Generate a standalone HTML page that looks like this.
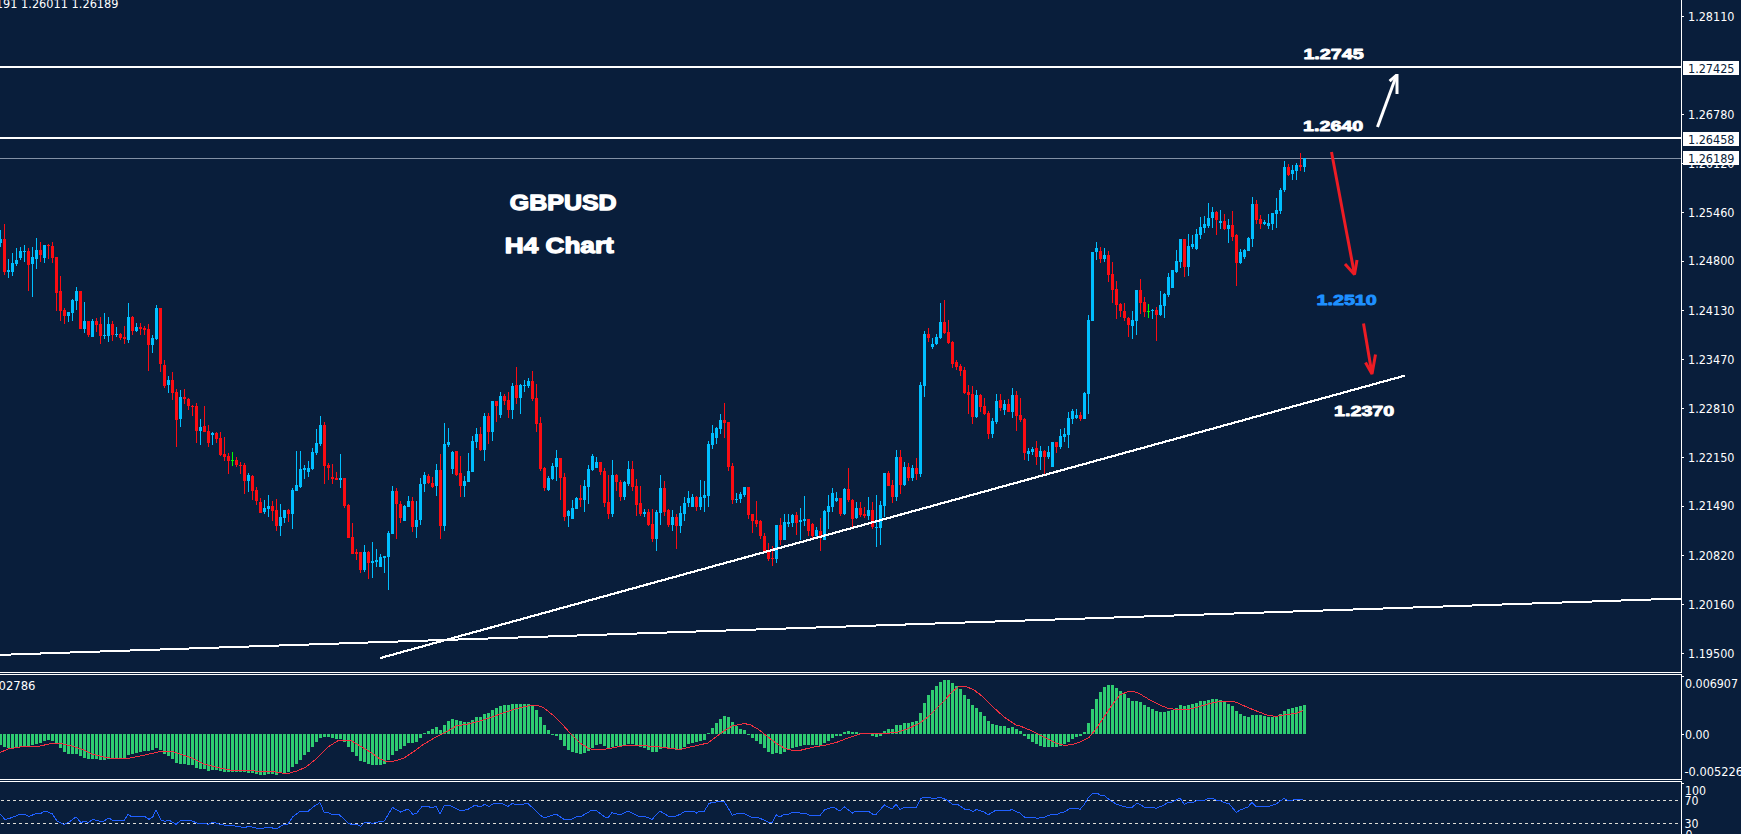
<!DOCTYPE html>
<html lang="en"><head><meta charset="utf-8"><title>GBPUSD H4 Chart</title>
<style>html,body{margin:0;padding:0;background:#091e3b;overflow:hidden}svg{display:block}</style>
</head><body>
<svg width="1741" height="834" viewBox="0 0 1741 834">
<rect width="1741" height="834" fill="#091e3b"/>
<g shape-rendering="crispEdges">
<rect x="0" y="66" width="1681" height="2" fill="#fff"/>
<rect x="0" y="137" width="1681" height="2" fill="#fff"/>
<rect x="0" y="158" width="1681" height="1" fill="#8391a5"/>
</g>
<g shape-rendering="crispEdges">
<path fill="#00bfff" d="M0 230h1v17h-1zM-1 239h3v4h-3zM8 259h1v19h-1zM7 270h3v2h-3zM12 253h1v23h-1zM11 263h3v9h-3zM16 248h1v18h-1zM15 260h3v4h-3zM20 247h1v13h-1zM19 251h3v7h-3zM24 245h1v17h-1zM23 251h3v1h-3zM32 247h1v50h-1zM31 257h3v7h-3zM36 238h1v31h-1zM35 250h3v9h-3zM44 245h1v18h-1zM43 245h3v13h-3zM68 312h1v10h-1zM67 312h3v4h-3zM72 299h1v22h-1zM71 300h3v13h-3zM76 287h1v23h-1zM75 291h3v10h-3zM84 302h1v31h-1zM83 321h3v8h-3zM92 319h1v18h-1zM91 321h3v16h-3zM104 313h1v26h-1zM103 335h3v1h-3zM108 317h1v25h-1zM107 324h3v12h-3zM116 327h1v10h-1zM115 334h3v1h-3zM128 303h1v40h-1zM127 317h3v23h-3zM136 323h1v9h-1zM135 327h3v4h-3zM152 335h1v18h-1zM151 338h3v7h-3zM156 305h1v35h-1zM155 308h3v31h-3zM168 376h1v17h-1zM167 380h3v5h-3zM180 390h1v37h-1zM179 397h3v22h-3zM200 419h1v26h-1zM199 427h3v4h-3zM212 432h1v13h-1zM211 433h3v2h-3zM248 473h1v19h-1zM247 475h3v6h-3zM264 500h1v14h-1zM263 508h3v4h-3zM268 495h1v22h-1zM267 506h3v3h-3zM280 504h1v32h-1zM279 517h3v9h-3zM284 510h1v13h-1zM283 510h3v8h-3zM292 488h1v41h-1zM291 490h3v24h-3zM296 451h1v40h-1zM295 485h3v6h-3zM300 451h1v37h-1zM299 469h3v18h-3zM304 465h1v14h-1zM303 468h3v2h-3zM308 461h1v16h-1zM307 468h3v4h-3zM312 448h1v22h-1zM311 452h3v17h-3zM316 429h1v26h-1zM315 443h3v10h-3zM320 416h1v30h-1zM319 425h3v19h-3zM340 454h1v34h-1zM339 478h3v2h-3zM364 545h1v27h-1zM363 552h3v18h-3zM372 542h1v36h-1zM371 561h3v2h-3zM376 549h1v18h-1zM375 560h3v2h-3zM380 554h1v13h-1zM379 557h3v10h-3zM384 556h1v17h-1zM383 556h3v2h-3zM388 531h1v59h-1zM387 533h3v24h-3zM392 486h1v48h-1zM391 491h3v43h-3zM404 505h1v16h-1zM403 506h3v15h-3zM408 496h1v11h-1zM407 501h3v6h-3zM416 501h1v37h-1zM415 520h3v7h-3zM420 478h1v47h-1zM419 484h3v36h-3zM424 472h1v20h-1zM423 475h3v9h-3zM436 464h1v32h-1zM435 470h3v16h-3zM444 423h1v108h-1zM443 444h3v82h-3zM448 428h1v19h-1zM447 442h3v3h-3zM452 451h1v23h-1zM451 452h3v17h-3zM464 476h1v21h-1zM463 481h3v5h-3zM468 453h1v29h-1zM467 471h3v11h-3zM472 436h1v36h-1zM471 441h3v31h-3zM476 428h1v20h-1zM475 434h3v8h-3zM484 413h1v48h-1zM483 416h3v34h-3zM492 401h1v40h-1zM491 401h3v31h-3zM500 392h1v26h-1zM499 396h3v19h-3zM512 383h1v36h-1zM511 386h3v24h-3zM520 384h1v30h-1zM519 385h3v13h-3zM524 380h1v12h-1zM523 385h3v1h-3zM528 378h1v10h-1zM527 381h3v5h-3zM548 476h1v15h-1zM547 478h3v12h-3zM552 463h1v17h-1zM551 466h3v13h-3zM556 450h1v31h-1zM555 458h3v9h-3zM568 510h1v17h-1zM567 511h3v5h-3zM572 500h1v19h-1zM571 508h3v11h-3zM576 497h1v12h-1zM575 498h3v11h-3zM584 480h1v32h-1zM583 486h3v14h-3zM588 465h1v39h-1zM587 469h3v18h-3zM592 454h1v17h-1zM591 456h3v14h-3zM596 457h1v11h-1zM595 462h3v6h-3zM612 460h1v57h-1zM611 475h3v39h-3zM624 481h1v19h-1zM623 482h3v15h-3zM628 461h1v25h-1zM627 469h3v15h-3zM644 509h1v8h-1zM643 512h3v2h-3zM656 510h1v41h-1zM655 512h3v27h-3zM660 475h1v50h-1zM659 488h3v25h-3zM672 510h1v21h-1zM671 517h3v8h-3zM680 506h1v27h-1zM679 513h3v13h-3zM684 497h1v24h-1zM683 503h3v11h-3zM688 491h1v16h-1zM687 498h3v5h-3zM692 494h1v13h-1zM691 497h3v10h-3zM700 480h1v30h-1zM699 497h3v10h-3zM704 481h1v31h-1zM703 495h3v3h-3zM708 441h1v66h-1zM707 444h3v52h-3zM712 425h1v24h-1zM711 433h3v12h-3zM716 427h1v17h-1zM715 428h3v10h-3zM720 414h1v20h-1zM719 420h3v9h-3zM736 493h1v10h-1zM735 499h3v1h-3zM740 492h1v11h-1zM739 494h3v5h-3zM744 487h1v10h-1zM743 487h3v8h-3zM776 525h1v38h-1zM775 525h3v34h-3zM784 514h1v26h-1zM783 522h3v18h-3zM788 514h1v13h-1zM787 522h3v2h-3zM792 514h1v13h-1zM791 515h3v8h-3zM800 508h1v32h-1zM799 520h3v2h-3zM804 496h1v30h-1zM803 519h3v2h-3zM816 527h1v10h-1zM815 530h3v6h-3zM824 510h1v30h-1zM823 511h3v29h-3zM828 495h1v34h-1zM827 506h3v6h-3zM832 488h1v24h-1zM831 493h3v14h-3zM836 492h1v10h-1zM835 498h3v3h-3zM844 488h1v27h-1zM843 489h3v25h-3zM856 502h1v17h-1zM855 508h3v10h-3zM868 497h1v23h-1zM867 510h3v6h-3zM876 495h1v52h-1zM875 527h3v1h-3zM880 501h1v44h-1zM879 505h3v23h-3zM884 473h1v44h-1zM883 473h3v33h-3zM896 450h1v51h-1zM895 457h3v40h-3zM904 462h1v24h-1zM903 467h3v18h-3zM912 465h1v16h-1zM911 468h3v10h-3zM920 382h1v95h-1zM919 385h3v89h-3zM924 331h1v66h-1zM923 334h3v52h-3zM932 338h1v11h-1zM931 344h3v3h-3zM936 334h1v11h-1zM935 337h3v7h-3zM940 303h1v36h-1zM939 322h3v16h-3zM976 390h1v28h-1zM975 395h3v22h-3zM992 418h1v20h-1zM991 421h3v13h-3zM996 394h1v30h-1zM995 401h3v21h-3zM1004 400h1v15h-1zM1003 404h3v6h-3zM1012 388h1v30h-1zM1011 395h3v17h-3zM1028 448h1v13h-1zM1027 451h3v3h-3zM1032 447h1v8h-1zM1031 449h3v3h-3zM1040 446h1v24h-1zM1039 451h3v6h-3zM1048 446h1v13h-1zM1047 452h3v5h-3zM1052 442h1v25h-1zM1051 442h3v25h-3zM1060 429h1v20h-1zM1059 436h3v11h-3zM1064 428h1v14h-1zM1063 434h3v3h-3zM1068 412h1v36h-1zM1067 418h3v17h-3zM1072 409h1v15h-1zM1071 411h3v8h-3zM1076 409h1v10h-1zM1075 415h3v3h-3zM1084 392h1v27h-1zM1083 393h3v26h-3zM1088 315h1v99h-1zM1087 320h3v74h-3zM1092 252h1v69h-1zM1091 252h3v69h-3zM1096 242h1v18h-1zM1095 248h3v4h-3zM1104 248h1v14h-1zM1103 255h3v4h-3zM1132 311h1v28h-1zM1131 320h3v6h-3zM1136 290h1v45h-1zM1135 290h3v31h-3zM1152 309h1v10h-1zM1151 310h3v1h-3zM1160 291h1v25h-1zM1159 305h3v10h-3zM1164 293h1v25h-1zM1163 294h3v12h-3zM1168 273h1v24h-1zM1167 277h3v18h-3zM1172 270h1v18h-1zM1171 270h3v18h-3zM1176 250h1v23h-1zM1175 261h3v11h-3zM1180 239h1v29h-1zM1179 239h3v23h-3zM1188 234h1v42h-1zM1187 246h3v21h-3zM1192 235h1v14h-1zM1191 244h3v3h-3zM1196 229h1v21h-1zM1195 234h3v15h-3zM1200 217h1v22h-1zM1199 227h3v8h-3zM1204 216h1v17h-1zM1203 224h3v4h-3zM1208 203h1v25h-1zM1207 218h3v8h-3zM1212 207h1v21h-1zM1211 212h3v6h-3zM1220 210h1v19h-1zM1219 221h3v2h-3zM1228 219h1v24h-1zM1227 225h3v4h-3zM1240 249h1v15h-1zM1239 252h3v11h-3zM1244 249h1v10h-1zM1243 250h3v7h-3zM1248 237h1v14h-1zM1247 238h3v13h-3zM1252 197h1v50h-1zM1251 204h3v35h-3zM1264 220h1v5h-1zM1263 222h3v2h-3zM1268 214h1v15h-1zM1267 223h3v3h-3zM1272 213h1v17h-1zM1271 213h3v11h-3zM1276 198h1v30h-1zM1275 210h3v4h-3zM1280 188h1v26h-1zM1279 190h3v21h-3zM1284 161h1v31h-1zM1283 167h3v23h-3zM1292 165h1v15h-1zM1291 170h3v4h-3zM1296 163h1v17h-1zM1295 165h3v6h-3zM1304 158h1v14h-1zM1303 158h3v9h-3z"/>
<path fill="#fc0c12" d="M4 224h1v51h-1zM3 239h3v33h-3zM28 248h1v43h-1zM27 251h3v14h-3zM40 242h1v20h-1zM39 250h3v5h-3zM48 244h1v15h-1zM47 245h3v1h-3zM52 242h1v21h-1zM51 246h3v12h-3zM56 257h1v54h-1zM55 257h3v36h-3zM60 276h1v45h-1zM59 291h3v20h-3zM64 308h1v16h-1zM63 310h3v6h-3zM80 291h1v38h-1zM79 291h3v38h-3zM88 321h1v16h-1zM87 321h3v14h-3zM96 318h1v14h-1zM95 321h3v4h-3zM100 317h1v27h-1zM99 324h3v12h-3zM112 321h1v20h-1zM111 324h3v11h-3zM120 333h1v7h-1zM119 334h3v4h-3zM124 326h1v18h-1zM123 337h3v2h-3zM132 316h1v19h-1zM131 317h3v14h-3zM140 323h1v12h-1zM139 327h3v2h-3zM144 326h1v9h-1zM143 328h3v2h-3zM148 324h1v47h-1zM147 329h3v16h-3zM160 308h1v64h-1zM159 308h3v56h-3zM164 360h1v28h-1zM163 365h3v21h-3zM172 372h1v28h-1zM171 380h3v13h-3zM176 389h1v58h-1zM175 392h3v28h-3zM184 389h1v15h-1zM183 397h3v2h-3zM188 398h1v12h-1zM187 399h3v7h-3zM192 405h1v11h-1zM191 406h3v1h-3zM196 403h1v40h-1zM195 406h3v25h-3zM204 406h1v26h-1zM203 426h3v6h-3zM208 425h1v22h-1zM207 431h3v12h-3zM216 432h1v11h-1zM215 433h3v6h-3zM220 432h1v24h-1zM219 438h3v17h-3zM224 437h1v24h-1zM223 454h3v3h-3zM228 453h1v21h-1zM227 456h3v5h-3zM236 457h1v10h-1zM235 460h3v5h-3zM240 462h1v12h-1zM239 465h3v1h-3zM244 463h1v31h-1zM243 465h3v16h-3zM252 475h1v25h-1zM251 476h3v15h-3zM256 487h1v18h-1zM255 490h3v11h-3zM260 498h1v15h-1zM259 502h3v11h-3zM272 501h1v20h-1zM271 506h3v5h-3zM276 499h1v32h-1zM275 510h3v16h-3zM288 509h1v13h-1zM287 510h3v4h-3zM324 422h1v62h-1zM323 425h3v41h-3zM328 463h1v17h-1zM327 465h3v3h-3zM332 464h1v20h-1zM331 477h3v2h-3zM336 472h1v8h-1zM335 478h3v2h-3zM344 478h1v30h-1zM343 478h3v28h-3zM348 504h1v34h-1zM347 505h3v33h-3zM352 523h1v31h-1zM351 537h3v17h-3zM356 549h1v11h-1zM355 552h3v2h-3zM360 552h1v21h-1zM359 552h3v18h-3zM368 551h1v28h-1zM367 552h3v11h-3zM396 488h1v51h-1zM395 491h3v13h-3zM400 501h1v22h-1zM399 504h3v14h-3zM412 497h1v35h-1zM411 501h3v26h-3zM428 474h1v10h-1zM427 476h3v7h-3zM432 477h1v11h-1zM431 483h3v4h-3zM440 454h1v85h-1zM439 470h3v56h-3zM456 451h1v25h-1zM455 451h3v24h-3zM460 456h1v41h-1zM459 473h3v13h-3zM480 427h1v24h-1zM479 434h3v16h-3zM488 413h1v31h-1zM487 416h3v16h-3zM496 401h1v21h-1zM495 401h3v5h-3zM504 394h1v11h-1zM503 396h3v5h-3zM508 392h1v26h-1zM507 400h3v10h-3zM516 367h1v37h-1zM515 385h3v13h-3zM532 371h1v30h-1zM531 381h3v18h-3zM536 384h1v48h-1zM535 398h3v26h-3zM540 417h1v54h-1zM539 423h3v46h-3zM544 467h1v24h-1zM543 468h3v20h-3zM560 458h1v42h-1zM559 458h3v20h-3zM564 473h1v48h-1zM563 477h3v40h-3zM580 485h1v22h-1zM579 498h3v2h-3zM600 462h1v13h-1zM599 462h3v10h-3zM604 468h1v39h-1zM603 471h3v32h-3zM608 475h1v44h-1zM607 502h3v12h-3zM616 474h1v17h-1zM615 475h3v7h-3zM620 480h1v21h-1zM619 482h3v15h-3zM632 461h1v30h-1zM631 469h3v18h-3zM636 479h1v37h-1zM635 486h3v19h-3zM640 486h1v30h-1zM639 503h3v11h-3zM648 509h1v17h-1zM647 512h3v13h-3zM652 509h1v33h-1zM651 524h3v15h-3zM664 481h1v35h-1zM663 488h3v24h-3zM668 509h1v18h-1zM667 510h3v15h-3zM676 514h1v35h-1zM675 517h3v9h-3zM696 496h1v15h-1zM695 497h3v10h-3zM724 403h1v35h-1zM723 420h3v3h-3zM728 422h1v49h-1zM727 422h3v45h-3zM732 463h1v41h-1zM731 466h3v34h-3zM748 487h1v32h-1zM747 487h3v28h-3zM752 514h1v19h-1zM751 514h3v7h-3zM756 501h1v26h-1zM755 520h3v4h-3zM760 520h1v19h-1zM759 521h3v15h-3zM764 533h1v18h-1zM763 536h3v15h-3zM768 543h1v18h-1zM767 552h3v7h-3zM772 546h1v20h-1zM771 558h3v1h-3zM780 518h1v27h-1zM779 525h3v15h-3zM796 512h1v23h-1zM795 515h3v8h-3zM808 519h1v17h-1zM807 519h3v12h-3zM812 523h1v15h-1zM811 524h3v12h-3zM820 518h1v33h-1zM819 531h3v5h-3zM840 498h1v18h-1zM839 498h3v16h-3zM848 468h1v34h-1zM847 489h3v11h-3zM852 499h1v28h-1zM851 500h3v19h-3zM860 502h1v15h-1zM859 508h3v7h-3zM864 507h1v11h-1zM863 514h3v2h-3zM872 502h1v27h-1zM871 510h3v17h-3zM888 471h1v15h-1zM887 473h3v13h-3zM892 480h1v23h-1zM891 485h3v12h-3zM900 450h1v44h-1zM899 457h3v28h-3zM908 463h1v18h-1zM907 467h3v11h-3zM916 458h1v22h-1zM915 468h3v6h-3zM928 328h1v14h-1zM927 334h3v4h-3zM944 300h1v34h-1zM943 322h3v11h-3zM948 320h1v24h-1zM947 332h3v11h-3zM952 341h1v27h-1zM951 342h3v22h-3zM956 360h1v10h-1zM955 362h3v5h-3zM960 364h1v12h-1zM959 366h3v5h-3zM964 367h1v27h-1zM963 370h3v23h-3zM968 385h1v29h-1zM967 392h3v3h-3zM972 386h1v38h-1zM971 394h3v23h-3zM980 394h1v18h-1zM979 395h3v12h-3zM984 398h1v17h-1zM983 406h3v8h-3zM988 411h1v28h-1zM987 413h3v21h-3zM1000 394h1v17h-1zM999 400h3v8h-3zM1008 399h1v13h-1zM1007 404h3v8h-3zM1016 391h1v40h-1zM1015 395h3v21h-3zM1020 398h1v24h-1zM1019 415h3v5h-3zM1024 418h1v42h-1zM1023 419h3v34h-3zM1036 441h1v24h-1zM1035 448h3v9h-3zM1044 450h1v26h-1zM1043 451h3v6h-3zM1056 442h1v11h-1zM1055 442h3v5h-3zM1080 412h1v9h-1zM1079 415h3v4h-3zM1100 247h1v16h-1zM1099 251h3v8h-3zM1108 251h1v31h-1zM1107 255h3v20h-3zM1112 262h1v41h-1zM1111 274h3v16h-3zM1116 281h1v38h-1zM1115 289h3v16h-3zM1120 303h1v14h-1zM1119 304h3v7h-3zM1124 303h1v18h-1zM1123 311h3v7h-3zM1128 317h1v20h-1zM1127 318h3v7h-3zM1140 279h1v35h-1zM1139 290h3v13h-3zM1144 297h1v20h-1zM1143 302h3v10h-3zM1156 307h1v34h-1zM1155 310h3v5h-3zM1184 239h1v38h-1zM1183 239h3v28h-3zM1216 211h1v24h-1zM1215 212h3v8h-3zM1224 214h1v16h-1zM1223 221h3v8h-3zM1232 211h1v30h-1zM1231 225h3v12h-3zM1236 234h1v52h-1zM1235 235h3v28h-3zM1256 200h1v24h-1zM1255 204h3v16h-3zM1260 215h1v14h-1zM1259 219h3v5h-3zM1288 164h1v12h-1zM1287 167h3v8h-3zM1300 153h1v18h-1zM1299 165h3v2h-3z"/>
<path fill="#00ff00" d="M232 452h1v14h-1zM231 460h3v1h-3zM1148 304h1v14h-1zM1147 311h3v1h-3z"/>
</g>
<g stroke="#fff" stroke-width="2" shape-rendering="crispEdges" fill="none">
<line x1="380" y1="658.1" x2="1405" y2="375.6" stroke-width="2.2"/>
<line x1="0" y1="654.86" x2="1681" y2="598.51"/>
</g>
<g stroke="#fff" stroke-width="3" fill="none" stroke-linecap="butt">
<path d="M1377.5 127L1396.4 75.6"/>
<path d="M1389.6 81.2L1396.6 75"/>
<path d="M1397 74V94"/>
</g>
<g stroke="#ed1c24" stroke-width="3" fill="none" stroke-linejoin="bevel">
<path d="M1331.5 152L1354.3 273.5"/>
<path d="M1345 264L1354.5 274.5L1357 260"/>
<path d="M1363.5 323.5L1371.8 373"/>
<path d="M1365.5 362.5L1372 374L1375.5 354.5"/>
</g>
<g shape-rendering="crispEdges">
<path fill="#2ecc71" d="M-1 734h3v11h-3zM3 734h3v13h-3zM7 734h3v14h-3zM11 734h3v14h-3zM15 734h3v13h-3zM19 734h3v13h-3zM23 734h3v12h-3zM27 734h3v12h-3zM31 734h3v11h-3zM35 734h3v10h-3zM39 734h3v9h-3zM43 734h3v7h-3zM47 734h3v6h-3zM51 734h3v7h-3zM55 734h3v10h-3zM59 734h3v14h-3zM63 734h3v18h-3zM67 734h3v20h-3zM71 734h3v20h-3zM75 734h3v20h-3zM79 734h3v22h-3zM83 734h3v24h-3zM87 734h3v25h-3zM91 734h3v25h-3zM95 734h3v25h-3zM99 734h3v26h-3zM103 734h3v26h-3zM107 734h3v25h-3zM111 734h3v24h-3zM115 734h3v24h-3zM119 734h3v24h-3zM123 734h3v24h-3zM127 734h3v21h-3zM131 734h3v20h-3zM135 734h3v19h-3zM139 734h3v18h-3zM143 734h3v17h-3zM147 734h3v17h-3zM151 734h3v16h-3zM155 734h3v14h-3zM159 734h3v16h-3zM163 734h3v20h-3zM167 734h3v22h-3zM171 734h3v25h-3zM175 734h3v29h-3zM179 734h3v30h-3zM183 734h3v30h-3zM187 734h3v31h-3zM191 734h3v31h-3zM195 734h3v34h-3zM199 734h3v35h-3zM203 734h3v35h-3zM207 734h3v37h-3zM211 734h3v36h-3zM215 734h3v36h-3zM219 734h3v37h-3zM223 734h3v38h-3zM227 734h3v38h-3zM231 734h3v38h-3zM235 734h3v38h-3zM239 734h3v38h-3zM243 734h3v38h-3zM247 734h3v39h-3zM251 734h3v39h-3zM255 734h3v40h-3zM259 734h3v41h-3zM263 734h3v41h-3zM267 734h3v40h-3zM271 734h3v40h-3zM275 734h3v41h-3zM279 734h3v39h-3zM283 734h3v39h-3zM287 734h3v38h-3zM291 734h3v33h-3zM295 734h3v30h-3zM299 734h3v26h-3zM303 734h3v21h-3zM307 734h3v18h-3zM311 734h3v13h-3zM315 734h3v8h-3zM319 734h3v4h-3zM323 734h3v3h-3zM327 734h3v3h-3zM331 734h3v4h-3zM335 734h3v5h-3zM339 734h3v5h-3zM343 734h3v8h-3zM347 734h3v13h-3zM351 734h3v18h-3zM355 734h3v22h-3zM359 734h3v27h-3zM363 734h3v28h-3zM367 734h3v30h-3zM371 734h3v31h-3zM375 734h3v31h-3zM379 734h3v31h-3zM383 734h3v30h-3zM387 734h3v26h-3zM391 734h3v21h-3zM395 734h3v17h-3zM399 734h3v15h-3zM403 734h3v12h-3zM407 734h3v9h-3zM411 734h3v9h-3zM415 734h3v8h-3zM419 734h3v4h-3zM423 733h3v1h-3zM427 731h3v3h-3zM431 729h3v5h-3zM435 727h3v7h-3zM439 730h3v4h-3zM443 725h3v9h-3zM447 721h3v13h-3zM451 719h3v15h-3zM455 720h3v14h-3zM459 721h3v13h-3zM463 722h3v12h-3zM467 722h3v12h-3zM471 720h3v14h-3zM475 717h3v17h-3zM479 717h3v17h-3zM483 714h3v20h-3zM487 713h3v21h-3zM491 710h3v24h-3zM495 708h3v26h-3zM499 706h3v28h-3zM503 705h3v29h-3zM507 705h3v29h-3zM511 704h3v30h-3zM515 704h3v30h-3zM519 704h3v30h-3zM523 704h3v30h-3zM527 704h3v30h-3zM531 706h3v28h-3zM535 710h3v24h-3zM539 717h3v17h-3zM543 725h3v9h-3zM547 730h3v4h-3zM551 734h3v1h-3zM555 734h3v2h-3zM559 734h3v6h-3zM563 734h3v12h-3zM567 734h3v16h-3zM571 734h3v18h-3zM575 734h3v19h-3zM579 734h3v20h-3zM583 734h3v19h-3zM587 734h3v17h-3zM591 734h3v14h-3zM595 734h3v11h-3zM599 734h3v10h-3zM603 734h3v12h-3zM607 734h3v15h-3zM611 734h3v13h-3zM615 734h3v12h-3zM619 734h3v12h-3zM623 734h3v11h-3zM627 734h3v10h-3zM631 734h3v10h-3zM635 734h3v12h-3zM639 734h3v13h-3zM643 734h3v14h-3zM647 734h3v16h-3zM651 734h3v18h-3zM655 734h3v18h-3zM659 734h3v15h-3zM663 734h3v14h-3zM667 734h3v15h-3zM671 734h3v15h-3zM675 734h3v16h-3zM679 734h3v15h-3zM683 734h3v13h-3zM687 734h3v10h-3zM691 734h3v9h-3zM695 734h3v8h-3zM699 734h3v7h-3zM703 734h3v6h-3zM707 733h3v1h-3zM711 728h3v6h-3zM715 723h3v11h-3zM719 719h3v15h-3zM723 716h3v18h-3zM727 717h3v17h-3zM731 722h3v12h-3zM735 726h3v8h-3zM739 729h3v5h-3zM743 730h3v4h-3zM747 734h3v1h-3zM751 734h3v4h-3zM755 734h3v7h-3zM759 734h3v10h-3zM763 734h3v14h-3zM767 734h3v18h-3zM771 734h3v20h-3zM775 734h3v19h-3zM779 734h3v20h-3zM783 734h3v18h-3zM787 734h3v16h-3zM791 734h3v14h-3zM795 734h3v13h-3zM799 734h3v12h-3zM803 734h3v11h-3zM807 734h3v11h-3zM811 734h3v11h-3zM815 734h3v11h-3zM819 734h3v12h-3zM823 734h3v9h-3zM827 734h3v7h-3zM831 734h3v4h-3zM835 734h3v2h-3zM839 734h3v2h-3zM843 732h3v2h-3zM847 731h3v3h-3zM851 732h3v2h-3zM855 732h3v2h-3zM859 733h3v1h-3zM871 734h3v2h-3zM875 734h3v3h-3zM879 734h3v2h-3zM883 731h3v3h-3zM887 729h3v5h-3zM891 729h3v5h-3zM895 725h3v9h-3zM899 725h3v9h-3zM903 723h3v11h-3zM907 723h3v11h-3zM911 722h3v12h-3zM915 721h3v13h-3zM919 713h3v21h-3zM923 703h3v31h-3zM927 695h3v39h-3zM931 690h3v44h-3zM935 686h3v48h-3zM939 682h3v52h-3zM943 680h3v54h-3zM947 680h3v54h-3zM951 683h3v51h-3zM955 686h3v48h-3zM959 689h3v45h-3zM963 695h3v39h-3zM967 699h3v35h-3zM971 705h3v29h-3zM975 708h3v26h-3zM979 712h3v22h-3zM983 716h3v18h-3zM987 721h3v13h-3zM991 724h3v10h-3zM995 725h3v9h-3zM999 726h3v8h-3zM1003 726h3v8h-3zM1007 728h3v6h-3zM1011 727h3v7h-3zM1015 729h3v5h-3zM1019 731h3v3h-3zM1023 734h3v2h-3zM1027 734h3v5h-3zM1031 734h3v8h-3zM1035 734h3v10h-3zM1039 734h3v12h-3zM1043 734h3v13h-3zM1047 734h3v13h-3zM1051 734h3v13h-3zM1055 734h3v13h-3zM1059 734h3v12h-3zM1063 734h3v10h-3zM1067 734h3v8h-3zM1071 734h3v5h-3zM1075 734h3v3h-3zM1079 734h3v2h-3zM1083 732h3v2h-3zM1087 723h3v11h-3zM1091 709h3v25h-3zM1095 699h3v35h-3zM1099 692h3v42h-3zM1103 687h3v47h-3zM1107 685h3v49h-3zM1111 685h3v49h-3zM1115 688h3v46h-3zM1119 691h3v43h-3zM1123 694h3v40h-3zM1127 698h3v36h-3zM1131 701h3v33h-3zM1135 701h3v33h-3zM1139 702h3v32h-3zM1143 705h3v29h-3zM1147 707h3v27h-3zM1151 709h3v25h-3zM1155 711h3v23h-3zM1159 712h3v22h-3zM1163 712h3v22h-3zM1167 711h3v23h-3zM1171 710h3v24h-3zM1175 708h3v26h-3zM1179 705h3v29h-3zM1183 706h3v28h-3zM1187 705h3v29h-3zM1191 704h3v30h-3zM1195 703h3v31h-3zM1199 701h3v33h-3zM1203 701h3v33h-3zM1207 700h3v34h-3zM1211 699h3v35h-3zM1215 699h3v35h-3zM1219 700h3v34h-3zM1223 702h3v32h-3zM1227 704h3v30h-3zM1231 706h3v28h-3zM1235 711h3v23h-3zM1239 714h3v20h-3zM1243 716h3v18h-3zM1247 717h3v17h-3zM1251 715h3v19h-3zM1255 715h3v19h-3zM1259 715h3v19h-3zM1263 716h3v18h-3zM1267 717h3v17h-3zM1271 717h3v17h-3zM1275 716h3v18h-3zM1279 714h3v20h-3zM1283 711h3v23h-3zM1287 709h3v25h-3zM1291 708h3v26h-3zM1295 707h3v27h-3zM1299 706h3v28h-3zM1303 705h3v29h-3z"/>
</g>
<polyline points="0,752.6 8,749 20,747 40,746 52,743.4 60,743.4 72,746 84,750 92,754 104,757 112,758.4 128,758.4 140,756 152,753.4 160,751.4 172,751.4 180,754 192,758 204,764 220,768 232,770.4 248,770.4 260,771.4 276,772 284,773.4 290,773 298,770.6 306,767 316,759 328,747 338,740.6 340,740 352,741 360,746 372,753 380,759 388,762 396,760.6 404,758 416,750 424,744 436,737 448,731 456,726 468,724 480,721 492,717 504,712.6 516,708.6 528,706 538,705.4 544,708 554,716 562,724 570,733 580,743 588,748 592,749.4 604,749.4 612,748 624,745.6 636,745 648,746 660,747 672,748.6 678,749.2 680,749.4 692,746.6 708,743 716,737 724,731 732,726 744,723.6 750,724.6 758,729 768,737 776,743 784,748 792,750.4 800,750.4 812,747.4 824,745.4 836,742.6 848,738 860,734 872,733.4 884,733.4 896,732.6 908,728.6 920,723 928,717 936,709 944,701 952,692 958,687 966,686.4 974,690 982,696 992,706 1004,717 1016,725 1020,726 1032,731 1044,737 1056,743 1064,745.4 1072,744.6 1080,742 1089,737.4 1096,729 1104,717 1112,705 1120,695 1128,691.4 1134,691.4 1140,694 1150,700 1160,705 1168,708.4 1176,709.4 1188,709.4 1200,706.4 1212,703 1220,701.4 1234,701.4 1240,704 1250,708.4 1260,712.4 1268,715.4 1276,716.4 1284,715 1296,713.4 1303,710.6" fill="none" stroke="#f03040" stroke-width="1" shape-rendering="crispEdges"/>
<g shape-rendering="crispEdges">
<path d="M1 800.5H1681M1 823.5H1681" stroke="#dedcd6" stroke-width="1" stroke-dasharray="3 3" fill="none"/>
</g>
<polyline points="0,814 5,819.4 9,818.6 20,814.4 25,814.4 29,816.4 36,813.6 40,814 45,811 52,813.6 57,821 64,824.6 69,822 76,817 81,822.6 85,821 88,822.6 93,819.4 100,821.4 104,821 109,818 113,820.6 124,820.6 128,814.4 132,817 136,816 144,816 149,819.4 153,816.6 156,810 161,820 165,821.4 169,820 176,824.4 181,820 192,821 197,823 204,823 208,824.4 213,822 220,824.4 224,825 233,825.6 244,827.6 249,826.4 260,829 269,827 276,829 284,824.4 288,824 293,816.6 300,811.4 308,811.4 313,807 320,802.6 324,812 328,812.4 332,814.4 339,814.4 348,823 352,824.6 357,824.4 360.6,826.4 365,822 373,823.4 380,821.4 384.4,821 392.4,807.4 400.6,812 408,809 413,814.4 417,813 422,806.4 428,806.4 432,808 436,806 440,814 444.4,805 449,805 461,811 468,809.4 475,805 480,807 484.4,804.4 489,806.4 493,804 501,803 508,806.4 512.4,803.4 517,805 528,803.4 540,815 544.4,818 556,814 565,820 572,819 576,817 581,816.6 592,810 597,811 605,817 608,818 612,812.6 620,815 628,811 640,817 644,816 652,819.4 660,811 668,816 676,816 680,814.4 684,812 689,811 693,811 696.4,813 700,811 704.4,811 709,803.4 713,802.4 720,801.4 724,801 732.4,815.4 736,814 744,813.6 751,817 757,817 768,822 772,822.4 776.4,815 780,817 784,814.6 788,814.4 792,812.4 805,813.4 812,816 820,815.4 824.4,810 833,807 840,811 844.4,807 852.4,813 856,811 861,812 868,811 873,814.4 876,814.4 884.4,805 892,809 896,804.4 900,809.4 904,807.4 908,808 916,807.6 921,798.4 924,797.4 929,797.4 932,798.4 937,798 940,797 948,800.6 952,804 958,804.6 964.4,809 969,809.4 973,811.6 976.4,809.4 984,812 988,815 996,810 1000,811 1004,810 1008,811 1012,809.4 1018,812.4 1020,813 1024.4,817 1033,817 1037,818.4 1045,817 1052,814 1056,815 1060,813 1064,812 1071,808 1077,808 1080,809.4 1084,805 1088,798 1093,793 1097,793 1100,795 1104,795 1109,799.6 1116,804 1120,805.4 1128,807.4 1132,807.4 1137,803 1145,807.4 1153,807.4 1156,808.4 1164,805 1168,802.6 1172,802 1180,798 1184.4,804.6 1188,802.4 1193,802.4 1196,801 1200,800 1204,800.4 1208,798.6 1212,798 1217,800.4 1220,800.6 1224,802.6 1229,803.6 1236.4,812.4 1240,810 1248,807 1252,802.4 1256,806.4 1269,806.4 1276,804 1284,798.4 1288,800.4 1292,800.4 1296,799 1300,800 1303,799" fill="none" stroke="#2060ff" stroke-width="1" shape-rendering="crispEdges"/>
<g shape-rendering="crispEdges" fill="#fff">
<rect x="1681" y="0" width="1" height="673"/>
<rect x="1681" y="674" width="1" height="106"/>
<rect x="1681" y="781" width="1" height="53"/>
<rect x="0" y="672" width="1682" height="1"/>
<rect x="0" y="674" width="1682" height="1"/>
<rect x="0" y="779" width="1682" height="1"/>
<rect x="0" y="781" width="1682" height="1"/>
<rect x="1682" y="16" width="2" height="1"/>
<rect x="1682" y="114" width="2" height="1"/>
<rect x="1682" y="163" width="2" height="1"/>
<rect x="1682" y="212" width="2" height="1"/>
<rect x="1682" y="261" width="2" height="1"/>
<rect x="1682" y="310" width="2" height="1"/>
<rect x="1682" y="359" width="2" height="1"/>
<rect x="1682" y="408" width="2" height="1"/>
<rect x="1682" y="457" width="2" height="1"/>
<rect x="1682" y="506" width="2" height="1"/>
<rect x="1682" y="555" width="2" height="1"/>
<rect x="1682" y="604" width="2" height="1"/>
<rect x="1682" y="653" width="2" height="1"/>
<rect x="1682" y="676" width="2" height="1"/>
<rect x="1682" y="734" width="2" height="1"/>
<rect x="1682" y="783" width="2" height="1"/>
</g>
<g font-family='"DejaVu Sans Condensed","DejaVu Sans","Liberation Sans",sans-serif' font-size="12.2" fill="#fff">
<text x="1688" y="20.6" textLength="46.5" lengthAdjust="spacingAndGlyphs">1.28110</text>
<text x="1688" y="118.99" textLength="46.5" lengthAdjust="spacingAndGlyphs">1.26780</text>
<text x="1688" y="167.82" textLength="46.5" lengthAdjust="spacingAndGlyphs">1.26120</text>
<text x="1688" y="216.65" textLength="46.5" lengthAdjust="spacingAndGlyphs">1.25460</text>
<text x="1688" y="265.47" textLength="46.5" lengthAdjust="spacingAndGlyphs">1.24800</text>
<text x="1688" y="315.04" textLength="46.5" lengthAdjust="spacingAndGlyphs">1.24130</text>
<text x="1688" y="363.87" textLength="46.5" lengthAdjust="spacingAndGlyphs">1.23470</text>
<text x="1688" y="412.69" textLength="46.5" lengthAdjust="spacingAndGlyphs">1.22810</text>
<text x="1688" y="461.52" textLength="46.5" lengthAdjust="spacingAndGlyphs">1.22150</text>
<text x="1688" y="510.35" textLength="46.5" lengthAdjust="spacingAndGlyphs">1.21490</text>
<text x="1688" y="559.91" textLength="46.5" lengthAdjust="spacingAndGlyphs">1.20820</text>
<text x="1688" y="608.74" textLength="46.5" lengthAdjust="spacingAndGlyphs">1.20160</text>
<text x="1688" y="657.57" textLength="46.5" lengthAdjust="spacingAndGlyphs">1.19500</text>
<text x="1685" y="688" textLength="53" lengthAdjust="spacingAndGlyphs">0.006907</text>
<text x="1685" y="739" textLength="24.5" lengthAdjust="spacingAndGlyphs">0.00</text>
<text x="1684.5" y="776" textLength="58.5" lengthAdjust="spacingAndGlyphs">-0.005226</text>
<text x="1685" y="795" textLength="21" lengthAdjust="spacingAndGlyphs">100</text>
<text x="1684.5" y="805" textLength="14" lengthAdjust="spacingAndGlyphs">70</text>
<text x="1684.5" y="828" textLength="14" lengthAdjust="spacingAndGlyphs">30</text>
<text x="1685.5" y="838.5" textLength="7" lengthAdjust="spacingAndGlyphs">0</text>
<text x="118.5" y="8" text-anchor="end" textLength="122.7" lengthAdjust="spacingAndGlyphs">191 1.26011 1.26189</text>
<text x="35.5" y="690" text-anchor="end" textLength="37" lengthAdjust="spacingAndGlyphs">02786</text>
</g>
<g shape-rendering="crispEdges" fill="#fff">
<rect x="1683" y="61" width="56" height="14"/>
<rect x="1683" y="132" width="56" height="14"/>
<rect x="1683" y="151" width="56" height="14"/>
</g>
<g font-family='"DejaVu Sans Condensed","DejaVu Sans","Liberation Sans",sans-serif' font-size="12.2" fill="#091e3b">
<text x="1688" y="73" textLength="46.5" lengthAdjust="spacingAndGlyphs">1.27425</text>
<text x="1688" y="144" textLength="46.5" lengthAdjust="spacingAndGlyphs">1.26458</text>
<text x="1688" y="163" textLength="46.5" lengthAdjust="spacingAndGlyphs">1.26189</text>
</g>
<g font-family='"Liberation Sans","DejaVu Sans",sans-serif' font-weight="bold" fill="#fff" stroke="#fff" stroke-width="1.3" stroke-linejoin="round">
<text x="509.8" y="210.2" font-size="22.2" textLength="106.8" lengthAdjust="spacingAndGlyphs">GBPUSD</text>
<text x="504.8" y="253.2" font-size="22.2" textLength="109" lengthAdjust="spacingAndGlyphs">H4 Chart</text>
</g>
<g font-family='"Liberation Sans","DejaVu Sans",sans-serif' font-weight="bold" font-size="15.2" stroke-width="0.9" stroke-linejoin="round">
<text x="1303.4" y="58.6" fill="#fff" stroke="#fff" textLength="60.3" lengthAdjust="spacingAndGlyphs">1.2745</text>
<text x="1303" y="130.6" fill="#fff" stroke="#fff" textLength="60.3" lengthAdjust="spacingAndGlyphs">1.2640</text>
<text x="1316.5" y="304.6" fill="#1e90ff" stroke="#1e90ff" textLength="60.3" lengthAdjust="spacingAndGlyphs">1.2510</text>
<text x="1334" y="415.6" fill="#fff" stroke="#fff" textLength="60.3" lengthAdjust="spacingAndGlyphs">1.2370</text>
</g>
</svg>
</body></html>
